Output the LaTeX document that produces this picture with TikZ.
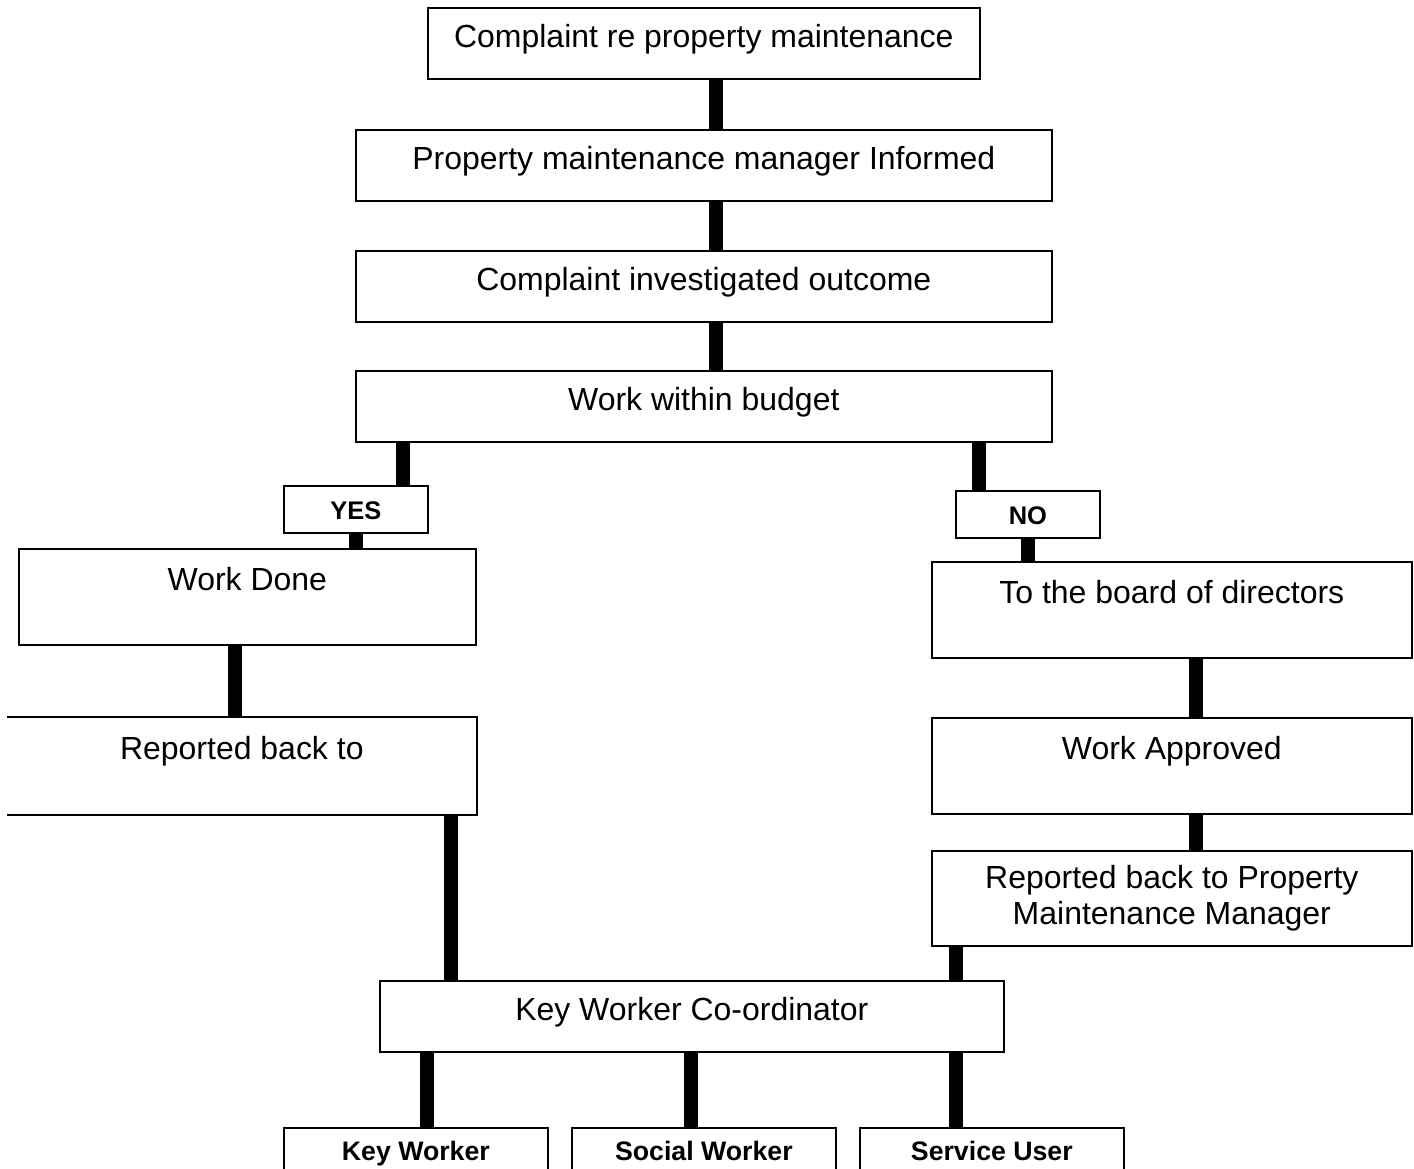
\documentclass[tikz,border=0pt]{standalone}
\usepackage{fontspec}
\setmainfont{Liberation Sans}
\usetikzlibrary{positioning}
\tikzset{
  box/.style={draw=black,line width=1pt,fill=white,inner xsep=2pt,inner ysep=0pt,font=\fontsize{18.2}{20.5}\selectfont},
  short/.style={text height=0.8cm,text depth=0.62cm},
  tall/.style={text height=0.84cm,text depth=1.08cm},
  tag/.style={draw=black,line width=1pt,fill=white,inner ysep=0pt,minimum width=2.88cm,text height=0.68cm,text depth=0.26cm,font=\bfseries\fontsize{14.5}{16}\selectfont},
  leaf/.style={draw=black,line width=1pt,fill=white,inner ysep=0pt,minimum width=5.28cm,text height=0.66cm,text depth=1cm,font=\bfseries\fontsize{15.2}{17}\selectfont},
  bar/.style={line width=0.28cm,line cap=butt}
}
\begin{document}
\begin{tikzpicture}[x=0.02cm,y=-0.02cm]
\clip (0,0) rectangle (1414,1169);
\fill[white] (0,0) rectangle (1414,1169);
% main column
\node[box,short,minimum width=11.04cm,anchor=north west] (complaint) at (427,7) {Complaint re property maintenance};
\node[box,short,minimum width=13.92cm,anchor=north west] (informed) at (355,129) {Property maintenance manager Informed};
\node[box,short,minimum width=13.92cm,anchor=north west] (investigated) at (355,250) {Complaint investigated outcome};
\node[box,short,minimum width=13.92cm,anchor=north west] (budget) at (355,370) {Work within budget};
% yes / no
\node[tag,anchor=north west] (yes) at (283,485) {YES};
\node[tag,anchor=north west] (no) at (955,490) {NO};
% left branch
\node[box,tall,minimum width=9.14cm,anchor=north west] (done) at (18,548) {Work Done};
\node[box,tall,draw=none,minimum width=9.36cm,anchor=north west] (reportL) at (7,717) {Reported back to};
\draw[line width=1pt] (reportL.north west) -- (reportL.north east) -- (reportL.south east) -- (reportL.south west);
% right branch
\node[box,tall,minimum width=9.6cm,anchor=north west] (board) at (931,561) {To the board of directors};
\node[box,tall,minimum width=9.6cm,anchor=north west] (approved) at (931,717) {Work Approved};
\node[box,inner ysep=2pt,minimum width=9.6cm,minimum height=1.9cm,align=center,anchor=north west] (reportR) at (931,850) {Reported back to Property\\Maintenance Manager};
% bottom
\node[box,short,minimum width=12.48cm,anchor=north west] (kwc) at (379,980) {Key Worker Co-ordinator};
\node[leaf,anchor=north west] (keyw) at (283,1127) {Key Worker};
\node[leaf,anchor=north west] (socw) at (571,1127) {Social Worker};
\node[leaf,anchor=north west] (servu) at (859,1127) {Service User};
% connectors
\coordinate (spine) at (716,0);
\coordinate (yesx) at (403,0);
\coordinate (nox) at (979,0);
\coordinate (leftx) at (235,0);
\coordinate (rightx) at (1196,0);
\coordinate (midL) at (451,0);
\coordinate (midR) at (956,0);
\coordinate (keyx) at (427,0);
\coordinate (socx) at (691,0);
\foreach \a/\b in {complaint/informed,informed/investigated,investigated/budget}
  \draw[bar] (\a.south -| spine) -- (\b.north -| spine);
\draw[bar] (budget.south -| yesx) -- (yes.north -| yesx);
\draw[bar] (yes.south) -- (yes.south |- done.north);
\draw[bar] (budget.south -| nox) -- (no.north -| nox);
\draw[bar] (no.south) -- (no.south |- board.north);
\draw[bar] (done.south -| leftx) -- (reportL.north -| leftx);
\draw[bar] (board.south -| rightx) -- (approved.north -| rightx);
\draw[bar] (approved.south -| rightx) -- (reportR.north -| rightx);
\draw[bar] (reportL.south -| midL) -- (kwc.north -| midL);
\draw[bar] (reportR.south -| midR) -- (kwc.north -| midR);
\draw[bar] (kwc.south -| keyx) -- (keyw.north -| keyx);
\draw[bar] (kwc.south -| socx) -- (socw.north -| socx);
\draw[bar] (kwc.south -| midR) -- (servu.north -| midR);
\end{tikzpicture}
\end{document}
